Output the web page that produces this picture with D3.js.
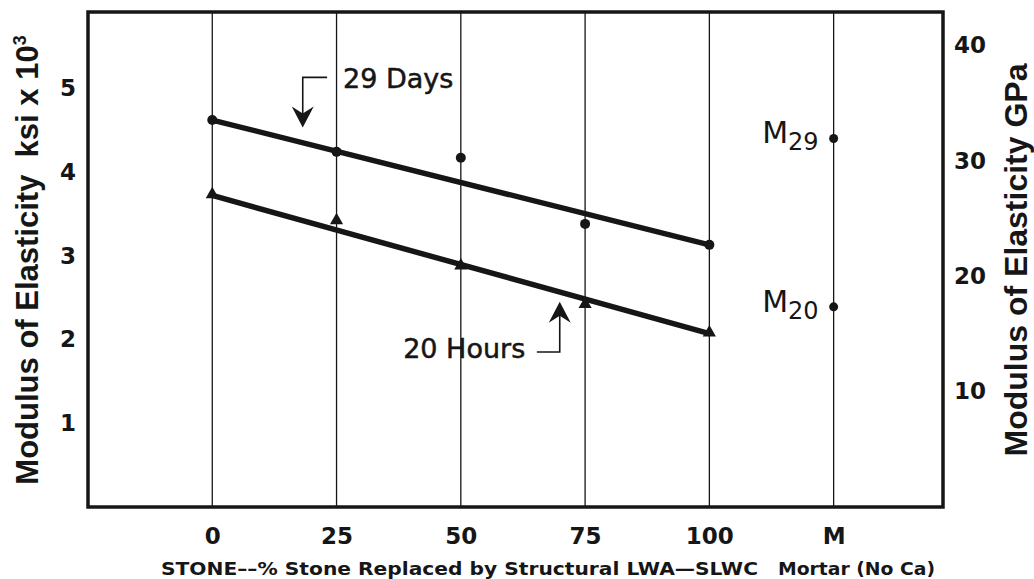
<!DOCTYPE html>
<html><head><meta charset="utf-8">
<script src="https://cdn.jsdelivr.net/npm/d3@7"></script>
<style>body{margin:0;background:#fff}</style>
</head><body><svg id="c" width="1034" height="579" xmlns="http://www.w3.org/2000/svg"></svg>
<script>
// ---- data ----
const xCategories = ["0", "25", "50", "75", "100", "M"];
const xTickValues = [0, 25, 50, 75, 100, 125];
const stonePct = [0, 25, 50, 75, 100];
const days29 = [4.62, 4.24, 4.17, 3.38, 3.13];
const hours20 = [3.72, 3.41, 2.87, 2.41, 2.07];
const mortarX = 125;
const mortar29 = 4.40;
const mortar20 = 2.39;
const fitX = [0, 100];
const fit29 = [4.62, 3.13];
const fit20 = [3.72, 2.07];
const leftTicks = [1, 2, 3, 4, 5];
const rightTicks = [10, 20, 30, 40];
const xTitleLeft = "STONE\u2013\u2013% Stone Replaced by Structural LWA\u2014SLWC";
const xTitleRight = "Mortar (No Ca)";
const yTitleLeft = "Modulus of Elasticity  ksi x 10";
const yTitleRight = "Modulus of Elasticity GPa";

// ---- layout ----
const L = 88, R = 943, T = 12, B = 507;
const ink = "#161616";
const svg = d3.select("#c");
const x = d3.scaleLinear().domain([-25, 147]).range([L, R]);
const y = d3.scaleLinear().domain([0, 5.91]).range([B, T]);
const yR = d3.scaleLinear().domain([0, 42.9]).range([B, T]);

// gridlines
svg.append("g").selectAll("line").data(xTickValues).join("line")
  .attr("x1", d => x(d)).attr("x2", d => x(d))
  .attr("y1", T).attr("y2", B)
  .attr("stroke", ink).attr("stroke-width", 1.3);

// border
svg.append("rect").attr("x", L).attr("y", T).attr("width", R - L).attr("height", B - T)
  .attr("fill", "none").attr("stroke", ink).attr("stroke-width", 3.5);

// axes
function styleAxis(g, size) {
  g.select(".domain").remove();
  g.selectAll("text").attr("font-family", "DejaVu Sans").attr("font-weight", "bold")
    .attr("font-size", size).attr("fill", ink);
}
svg.append("g").attr("transform", `translate(${L},0)`)
  .call(d3.axisLeft(y).tickValues(leftTicks).tickSize(0).tickPadding(12).tickFormat(d3.format("d")))
  .call(g => styleAxis(g, 23));
svg.append("g").attr("transform", `translate(${R},0)`)
  .call(d3.axisRight(yR).tickValues(rightTicks).tickSize(0).tickPadding(11).tickFormat(d3.format("d")))
  .call(g => styleAxis(g, 23));
svg.append("g").attr("transform", `translate(0,${B})`)
  .call(d3.axisBottom(x).tickValues(xTickValues).tickSize(0).tickPadding(21)
    .tickFormat((d, i) => xCategories[i]))
  .call(g => styleAxis(g, 23));

// fit lines
const line = d3.line().x(d => x(d[0])).y(d => y(d[1]));
[fit29, fit20].forEach(f => {
  svg.append("path").datum(fitX.map((v, i) => [v, f[i]]))
    .attr("d", line).attr("fill", "none").attr("stroke", ink).attr("stroke-width", 5.5);
});

// markers
svg.append("g").selectAll("circle").data(stonePct.map((v, i) => [v, days29[i]])).join("circle")
  .attr("cx", d => x(d[0])).attr("cy", d => y(d[1])).attr("r", 5).attr("fill", ink);
const tri = d3.symbol(d3.symbolTriangle).size(75);
svg.append("g").selectAll("path").data(stonePct.map((v, i) => [v, hours20[i]])).join("path")
  .attr("d", tri).attr("transform", d => `translate(${x(d[0])},${y(d[1]) - 1})`).attr("fill", ink);
svg.append("g").selectAll("circle").data([mortar29, mortar20]).join("circle")
  .attr("cx", x(mortarX)).attr("cy", d => y(d)).attr("r", 4.5).attr("fill", ink);

// mortar labels
[[mortar29, "29"], [mortar20, "20"]].forEach(([v, s]) => {
  const t = svg.append("text").attr("x", x(mortarX) - 15).attr("y", y(v) + 5)
    .attr("text-anchor", "end").attr("font-family", "DejaVu Sans").attr("font-size", 30).attr("fill", ink);
  t.append("tspan").text("M");
  t.append("tspan").attr("font-size", 24).attr("dy", 7).text(s);
});

// annotations
function arrowHead(tx, ty, dir) {
  // dir = 1 pointing down, -1 pointing up
  const p = `M${tx},${ty} L${tx - 11},${ty - dir * 21} L${tx},${ty - dir * 14} L${tx + 11},${ty - dir * 21} Z`;
  svg.append("path").attr("d", p).attr("fill", ink);
}
svg.append("path")
  .attr("d", d3.line()([[x(23.1), y(5.13)], [x(18.2), y(5.13)], [x(18.2), y(4.62)]]))
  .attr("fill", "none").attr("stroke", ink).attr("stroke-width", 1.6);
arrowHead(x(18.2), y(4.53), 1);
svg.append("text").attr("x", x(26.3)).attr("y", y(5.0))
  .attr("font-family", "DejaVu Sans").attr("font-size", 27).attr("fill", ink)
  .attr("stroke", ink).attr("stroke-width", 0.5).text("29 Days");

svg.append("path")
  .attr("d", d3.line()([[x(65.3), y(1.85)], [x(69.9), y(1.85)], [x(69.9), y(2.30)]]))
  .attr("fill", "none").attr("stroke", ink).attr("stroke-width", 1.6);
arrowHead(x(69.9), y(2.45), -1);
svg.append("text").attr("x", x(38.4)).attr("y", y(1.78))
  .attr("font-family", "DejaVu Sans").attr("font-size", 27).attr("fill", ink)
  .attr("stroke", ink).attr("stroke-width", 0.5).text("20 Hours");

// axis titles
svg.append("text").attr("x", 161).attr("y", 575)
  .attr("font-family", "DejaVu Sans").attr("font-weight", "bold").attr("font-size", 18).attr("fill", ink)
  .attr("textLength", 597).attr("lengthAdjust", "spacingAndGlyphs")
  .text(xTitleLeft);
svg.append("text").attr("x", 778).attr("y", 575)
  .attr("font-family", "DejaVu Sans").attr("font-weight", "bold").attr("font-size", 18).attr("fill", ink)
  .attr("textLength", 157).attr("lengthAdjust", "spacingAndGlyphs")
  .text(xTitleRight);

const yl = svg.append("text").attr("transform", "translate(38,260) rotate(-90)")
  .attr("text-anchor", "middle").attr("font-family", "Liberation Sans").attr("font-weight", "bold")
  .attr("font-size", 31).attr("fill", ink).style("white-space", "pre");
yl.append("tspan").text(yTitleLeft);
yl.append("tspan").attr("font-size", 18).attr("dy", -12).text("3");

svg.append("text").attr("transform", "translate(1027,260) rotate(-90)")
  .attr("text-anchor", "middle").attr("font-family", "Liberation Sans").attr("font-weight", "bold")
  .attr("font-size", 32).attr("fill", ink).text(yTitleRight);
</script>
</body></html>
